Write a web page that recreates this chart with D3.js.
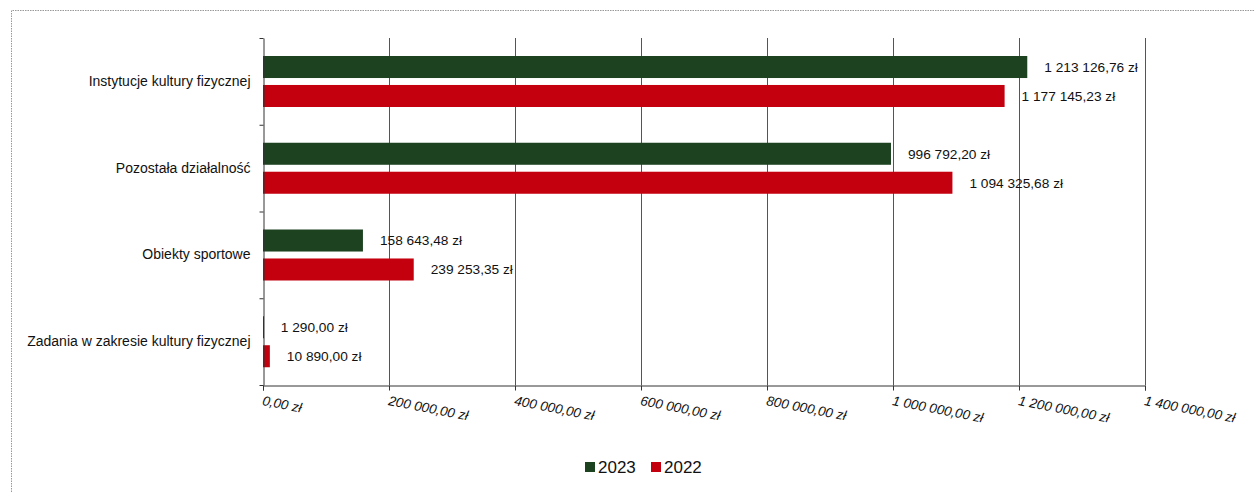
<!DOCTYPE html>
<html>
<head>
    <meta charset="utf-8">
    <title>Wydatki na kulturę fizyczną 2022-2023</title>
    <script src="https://d3js.org/d3.v7.min.js"></script>
    <style>
        body { margin: 0; background: #fff; }
        svg text { font-family: "Liberation Sans", Arial, sans-serif; fill: #111; }
    </style>
</head>
<body>
    <svg id="chart"></svg>
    <script>
        // data
        const categories = [
            "Instytucje kultury fizycznej",
            "Pozostała działalność",
            "Obiekty sportowe",
            "Zadania w zakresie kultury fizycznej"
        ];
        const seriesNames = ["2023", "2022"];
        const values2023 = [1213126.76, 996792.20, 158643.48, 1290.00];
        const values2022 = [1177145.23, 1094325.68, 239253.35, 10890.00];
        const xTicks = [0, 200000, 400000, 600000, 800000, 1000000, 1200000, 1400000];
        const colors = { "2023": "#1c4220", "2022": "#c4000f" };

        const W = 1254, H = 492;
        const svg = d3.select('#chart').attr('width', W).attr('height', H);

        // outer dotted frame
        svg.append('path')
            .attr('d', 'M11.5,' + H + ' V10.5 H' + W)
            .attr('fill', 'none')
            .attr('stroke', '#999')
            .attr('stroke-dasharray', '1.5,1');

        const pl = 263, pr = 1145, pt = 38, pb = 385;

        const pl_fmt = d3.formatLocale({
            decimal: ",", thousands: " ", grouping: [3], currency: ["", " zł"]
        });
        const money = pl_fmt.format("$,.2f");

        const x = d3.scaleLinear().domain([0, 1400000]).range([pl, pr]);
        const y = d3.scaleBand().domain(categories).range([pt, pb]);
        const ySub = d3.scaleBand().domain(seriesNames).range([18, 69]).paddingInner(0.24);

        // gridlines
        svg.append('g').selectAll('line')
            .data(xTicks.slice(1))
            .join('line')
            .attr('x1', d => x(d) + 0.5).attr('x2', d => x(d) + 0.5)
            .attr('y1', pt).attr('y2', pb)
            .attr('stroke', '#555').attr('stroke-width', 1);

        // rows
        const rows = categories.map((c, i) => ({
            cat: c,
            vals: [{ s: "2023", v: values2023[i] }, { s: "2022", v: values2022[i] }]
        }));

        const g = svg.append('g').selectAll('g')
            .data(rows)
            .join('g')
            .attr('transform', d => 'translate(0,' + y(d.cat) + ')');

        g.selectAll('rect')
            .data(d => d.vals)
            .join('rect')
            .attr('x', x(0))
            .attr('y', d => ySub(d.s))
            .attr('width', d => Math.max(1, x(d.v) - x(0)))
            .attr('height', ySub.bandwidth())
            .attr('fill', d => colors[d.s]);

        g.selectAll('text.val')
            .data(d => d.vals)
            .join('text')
            .attr('class', 'val')
            .attr('x', d => x(d.v) + 17)
            .attr('y', d => ySub(d.s) + ySub.bandwidth() / 2)
            .attr('dy', '0.35em')
            .attr('font-size', '13.7px')
            .text(d => money(d.v));

        // y axis
        const yAxis = svg.append('g')
            .attr('transform', 'translate(' + (pl + 0.5) + ',0)')
            .call(d3.axisLeft(y).tickSize(0).tickPadding(13));
        yAxis.select('.domain').attr('stroke', '#333');
        yAxis.selectAll('text').attr('font-size', '14px').attr('fill', '#111');
        // separator ticks between categories
        yAxis.selectAll('line.sep')
            .data(categories.map(c => y(c)).concat([pb]))
            .join('line')
            .attr('class', 'sep')
            .attr('x1', -4).attr('x2', 0)
            .attr('y1', d => d + 0.5).attr('y2', d => d + 0.5)
            .attr('stroke', '#333');

        // x axis
        const xAxis = svg.append('g')
            .attr('transform', 'translate(0,' + (pb + 0.5) + ')')
            .call(d3.axisBottom(x).tickValues(xTicks).tickSize(5).tickFormat(money));
        xAxis.select('.domain').attr('stroke', '#333');
        xAxis.selectAll('line').attr('stroke', '#333');
        xAxis.selectAll('text')
            .attr('font-size', '13.5px')
            .attr('font-style', 'italic')
            .attr('text-anchor', 'start')
            .attr('fill', '#111')
            .attr('transform', 'translate(0,10) rotate(11)')
            .attr('x', 0).attr('y', 0).attr('dy', '0.71em');

        // legend
        const legend = svg.append('g').attr('transform', 'translate(585,467)');
        const li = legend.selectAll('g')
            .data(seriesNames)
            .join('g')
            .attr('transform', (d, i) => 'translate(' + i * 66 + ',0)');
        li.append('rect')
            .attr('x', 0).attr('y', -5).attr('width', 10).attr('height', 10)
            .attr('fill', d => colors[d]);
        li.append('text')
            .attr('x', 13).attr('y', 0).attr('dy', '0.36em')
            .attr('font-size', '17px')
            .text(d => d);
    </script>
</body>
</html>
